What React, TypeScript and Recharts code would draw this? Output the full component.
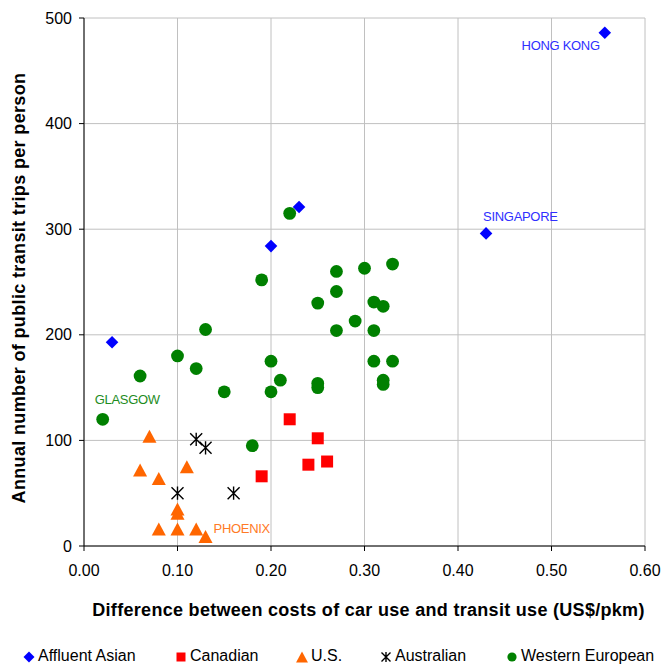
import React from "react";
import {
  ScatterChart,
  Scatter,
  XAxis,
  YAxis,
  CartesianGrid,
  Legend,
  Label,
} from "recharts";

const FONT = "Arial, 'Liberation Sans', sans-serif";

const xTicks = [0, 0.1, 0.2, 0.3, 0.4, 0.5, 0.6];
const yTicks = [0, 100, 200, 300, 400, 500];

// [cost difference US$/pkm, annual trips per person]
const affluentAsian = [
  [0.03, 193],
  [0.2, 284],
  [0.23, 321],
  [0.43, 296],
  [0.557, 486],
];

const canadian = [
  [0.19, 66],
  [0.22, 120],
  [0.25, 102],
  [0.24, 77],
  [0.26, 80],
];

const usCities = [
  [0.07, 104],
  [0.06, 72],
  [0.08, 64],
  [0.11, 75],
  [0.1, 35],
  [0.1, 31],
  [0.08, 16],
  [0.1, 16],
  [0.12, 16],
  [0.13, 9],
];

const australian = [
  [0.12, 101],
  [0.13, 93],
  [0.1, 50],
  [0.16, 50],
];

const westernEuropean = [
  [0.02, 120],
  [0.06, 161],
  [0.1, 180],
  [0.12, 168],
  [0.13, 205],
  [0.15, 146],
  [0.18, 95],
  [0.19, 252],
  [0.2, 175],
  [0.2, 146],
  [0.21, 157],
  [0.22, 315],
  [0.25, 230],
  [0.25, 154],
  [0.25, 150],
  [0.27, 260],
  [0.27, 241],
  [0.27, 204],
  [0.29, 213],
  [0.3, 263],
  [0.31, 231],
  [0.31, 204],
  [0.31, 175],
  [0.32, 227],
  [0.32, 157],
  [0.32, 153],
  [0.33, 267],
  [0.33, 175],
];

// city names written next to a point (series, index in that series)
const cityLabels = [
  { series: "Affluent Asian", index: 4, text: "HONG KONG" },
  { series: "Affluent Asian", index: 3, text: "SINGAPORE" },
  { series: "Western European", index: 0, text: "GLASGOW" },
  { series: "U.S.", index: 9, text: "PHOENIX" },
];

const labelPlacement: Record<string, { dx: number; dy: number; anchor: string }> = {
  "HONG KONG": { dx: -5, dy: 17, anchor: "end" },
  SINGAPORE: { dx: -3, dy: -12, anchor: "start" },
  GLASGOW: { dx: -8, dy: -15, anchor: "start" },
  PHOENIX: { dx: 8, dy: -3, anchor: "start" },
};

// left edge of each legend entry (px from chart's left)
const legendLeft = [23, 175, 296, 380, 506];

const COLORS: Record<string, string> = {
  "Affluent Asian": "#0000ff",
  Canadian: "#ff0000",
  "U.S.": "#ff6600",
  Australian: "#000000",
  "Western European": "#008000",
};

const LABEL_COLORS: Record<string, string> = {
  "Affluent Asian": "#2f2fff",
  "Western European": "#1e8c1e",
  "U.S.": "#ff7a26",
};

function toRows(series: string, pts: number[][]) {
  return pts.map(([x, y], i) => {
    const hit = cityLabels.find((c) => c.series === series && c.index === i);
    return { x, y, label: hit ? hit.text : "" };
  });
}

function markerPath(kind: string, cx: number, cy: number, s: number) {
  switch (kind) {
    case "diamond":
      return `M${cx},${cy - s}L${cx + s},${cy}L${cx},${cy + s}L${cx - s},${cy}Z`;
    case "square":
      return `M${cx - s},${cy - s}h${2 * s}v${2 * s}h${-2 * s}Z`;
    case "triangle":
      return `M${cx},${cy - s}L${cx + s * 1.08},${cy + s}L${cx - s * 1.08},${cy + s}Z`;
    case "star":
      return `M${cx - s},${cy - s}L${cx + s},${cy + s}M${cx + s},${cy - s}L${cx - s},${cy + s}M${cx},${cy - s * 1.1}L${cx},${cy + s * 1.1}`;
    default:
      return "";
  }
}

function Marker({ kind, cx, cy, s, color }: any) {
  if (kind === "circle") return <circle cx={cx} cy={cy} r={s} fill={color} />;
  if (kind === "star")
    return <path d={markerPath(kind, cx, cy, s)} stroke={color} strokeWidth={1.4} fill="none" />;
  return <path d={markerPath(kind, cx, cy, s)} fill={color} />;
}

function makeShape(series: string, kind: string, size: number) {
  return (props: any) => {
    const { cx, cy, payload } = props;
    const lbl = payload && payload.label;
    const pl = lbl ? labelPlacement[lbl] : null;
    return (
      <g>
        <Marker kind={kind} cx={cx} cy={cy} s={size} color={COLORS[series]} />
        {pl && (
          <text
            x={cx + pl.dx}
            y={cy + pl.dy}
            textAnchor={pl.anchor}
            fontSize={13}
            letterSpacing={-0.3}
            fontFamily={FONT}
            fill={LABEL_COLORS[series]}
          >
            {lbl}
          </text>
        )}
      </g>
    );
  };
}

const SERIES = [
  { name: "Affluent Asian", kind: "diamond", size: 6.3, legendSize: 5.5, pts: affluentAsian },
  { name: "Canadian", kind: "square", size: 6, legendSize: 4.5, pts: canadian },
  { name: "U.S.", kind: "triangle", size: 6.5, legendSize: 5.5, pts: usCities },
  { name: "Australian", kind: "star", size: 6, legendSize: 4.5, pts: australian },
  { name: "Western European", kind: "circle", size: 6.4, legendSize: 4.6, pts: westernEuropean },
];

function LegendContent() {
  return (
    <div
      style={{
        position: "relative",
        width: 665,
        height: 36,
        fontFamily: FONT,
        fontSize: 16,
        color: "#000",
      }}
    >
      {SERIES.map((s, i) => (
        <div
          key={s.name}
          style={{
            position: "absolute",
            left: legendLeft[i],
            top: 15,
            height: 21,
            display: "flex",
            alignItems: "center",
            whiteSpace: "nowrap",
          }}
        >
          <svg width={12} height={14} style={{ marginRight: 3 }}>
            <Marker kind={s.kind} cx={6} cy={8} s={s.legendSize} color={COLORS[s.name]} />
          </svg>
          <span>{s.name}</span>
        </div>
      ))}
    </div>
  );
}

export default function App() {
  return (
    <div style={{ position: "absolute", left: 0, top: 0, background: "#fff" }}>
      <ScatterChart
        width={665}
        height={666}
        margin={{ top: 18, right: 20, left: 0, bottom: 0 }}
        style={{ fontFamily: FONT }}
      >
        <CartesianGrid stroke="#c0c0c0" />
        <XAxis
          type="number"
          dataKey="x"
          domain={[0, 0.6]}
          ticks={xTicks}
          tickFormatter={(v: number) => v.toFixed(2)}
          tick={{ fontSize: 16, fill: "#000", fontFamily: FONT }}
          axisLine={{ stroke: "#000" }}
          tickLine={{ stroke: "#000" }}
          tickSize={5}
          tickMargin={14}
          height={84}
        >
          <Label
            content={(props: any) => {
              const vb = props.viewBox || { x: 84, y: 546, width: 561 };
              return (
                <text
                  x={vb.x + vb.width / 2 + 4}
                  y={vb.y + 70}
                  textAnchor="middle"
                  fontSize={18}
                  fontWeight="bold"
                  letterSpacing={0.3}
                  fontFamily={FONT}
                  fill="#000"
                >
                  Difference between costs of car use and transit use (US$/pkm)
                </text>
              );
            }}
          />
        </XAxis>
        <YAxis
          type="number"
          dataKey="y"
          domain={[0, 500]}
          ticks={yTicks}
          tick={{ fontSize: 16, fill: "#000", fontFamily: FONT }}
          axisLine={{ stroke: "#000" }}
          tickLine={{ stroke: "#000" }}
          tickSize={5}
          tickMargin={7}
          width={84}
        >
          <Label
            content={(props: any) => {
              const vb = props.viewBox || { x: 0, y: 18, height: 528 };
              const x = vb.x + 24.5;
              const y = vb.y + vb.height / 2 + 6;
              return (
                <text
                  x={x}
                  y={y}
                  transform={`rotate(-90 ${x} ${y})`}
                  textAnchor="middle"
                  fontSize={18}
                  fontWeight="bold"
                  letterSpacing={0.35}
                  fontFamily={FONT}
                  fill="#000"
                >
                  Annual number of public transit trips per person
                </text>
              );
            }}
          />
        </YAxis>
        <Legend
          verticalAlign="bottom"
          height={36}
          wrapperStyle={{ left: 0, width: 665 }}
          content={() => <LegendContent />}
        />
        {SERIES.map((s) => (
          <Scatter
            key={s.name}
            name={s.name}
            data={toRows(s.name, s.pts)}
            fill={COLORS[s.name]}
            shape={makeShape(s.name, s.kind, s.size)}
            isAnimationActive={false}
          />
        ))}
      </ScatterChart>
    </div>
  );
}
